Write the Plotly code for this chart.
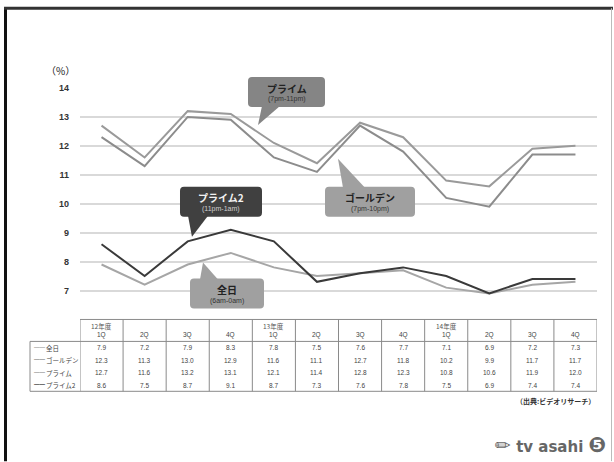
import plotly.graph_objects as go

W, H = 614, 462
L, R, T, B = 80, 17, 88, 156.5
FONT = "Liberation Sans, Noto Sans CJK JP, sans-serif"
JFONT = "Noto Sans CJK JP, Liberation Sans, sans-serif"


def px(x):
    # pixel -> paper x
    return (x - L) / (W - L - R)


def py(y):
    # pixel -> paper y
    return (H - B - y) / (H - T - B)


years = ["12年度", "", "", "", "13年度", "", "", "", "14年度", "", "", ""]
quarters = ["1Q", "2Q", "3Q", "4Q", "1Q", "2Q", "3Q", "4Q", "1Q", "2Q", "3Q", "4Q"]
x_idx = list(range(len(quarters)))

zennichi = [7.9, 7.2, 7.9, 8.3, 7.8, 7.5, 7.6, 7.7, 7.1, 6.9, 7.2, 7.3]
golden = [12.3, 11.3, 13.0, 12.9, 11.6, 11.1, 12.7, 11.8, 10.2, 9.9, 11.7, 11.7]
prime = [12.7, 11.6, 13.2, 13.1, 12.1, 11.4, 12.8, 12.3, 10.8, 10.6, 11.9, 12.0]
prime2 = [8.6, 7.5, 8.7, 9.1, 8.7, 7.3, 7.6, 7.8, 7.5, 6.9, 7.4, 7.4]

row_names = ["全日", "ゴールデン", "プライム", "プライム2"]
row_colors = ["#a6a6a6", "#8c8c8c", "#9a9a9a", "#3a3a3a"]
row_values = [zennichi, golden, prime, prime2]

fig = go.Figure()

# lines (light ones first, dark prime2 on top)
for order in [1, 2, 0, 3]:
    fig.add_trace(go.Scatter(x=x_idx, y=row_values[order], mode="lines",
                             line=dict(color=row_colors[order], width=2),
                             showlegend=False, hoverinfo="skip"))

shapes = []
annotations = []
tl = "#8a8a8a"


def hline(x0, x1, y, color=tl, w=1):
    shapes.append(dict(type="line", xref="paper", yref="paper", x0=px(x0), x1=px(x1),
                       y0=py(y), y1=py(y), line=dict(color=color, width=w), layer="above"))


def vline(x, y0, y1, color=tl, w=1):
    shapes.append(dict(type="line", xref="paper", yref="paper", x0=px(x), x1=px(x),
                       y0=py(y0), y1=py(y1), line=dict(color=color, width=w), layer="above"))


def note(x, y, text, size, color, family=FONT, xanchor="center", xref="paper"):
    annotations.append(dict(xref=xref, yref="paper", x=px(x) if xref == "paper" else x,
                            y=py(y), text=text, xanchor=xanchor, yanchor="middle",
                            showarrow=False, font=dict(family=family, size=size, color=color)))


# data table under the chart, columns on the chart's own x axis
TBL_L = 30
row_y = [348.5, 361, 373.5, 386]
for i in x_idx:
    if years[i]:
        note(i, 326.5, years[i], 6.5, "#555", JFONT, xref="x")
    note(i, 335.5, quarters[i], 6.5, "#444", FONT, xref="x")
    for r, vals in enumerate(row_values):
        note(i, row_y[r], "%.1f" % vals[i], 6.5, "#444", FONT, xref="x")
    shapes.append(dict(type="line", xref="x", yref="paper", x0=i - 0.5, x1=i - 0.5,
                       y0=py(320), y1=py(392), line=dict(color=tl, width=1), layer="above"))
shapes.append(dict(type="line", xref="x", yref="paper", x0=11.5, x1=11.5,
                   y0=py(320), y1=py(392), line=dict(color=tl, width=1), layer="above"))
for r, name in enumerate(row_names):
    note(TBL_L + 2, row_y[r], "━━", 5.5, row_colors[r], FONT, "left")
    note(TBL_L + 14, row_y[r], name, 6.5, "#444", JFONT, "left")

hline(80, 597, 320)
hline(TBL_L, 597, 342)
hline(TBL_L, 597, 392)
vline(TBL_L, 342, 392)

# outer frame
vline(5.5, 7, 462, "#111", 3)
hline(4, 613, 8, "#333", 3)
vline(611.5, 8, 462, "#bbb", 1)


def rounded(x0, y0, x1, y1, r=4):
    pts = [("M", x0 + r, y0), ("L", x1 - r, y0), ("Q", x1, y0, x1, y0 + r),
           ("L", x1, y1 - r), ("Q", x1, y1, x1 - r, y1), ("L", x0 + r, y1),
           ("Q", x0, y1, x0, y1 - r), ("L", x0, y0 + r), ("Q", x0, y0, x0 + r, y0)]
    out = []
    for p in pts:
        coords = p[1:]
        s = " ".join("%.5f,%.5f" % (px(coords[i]), py(coords[i + 1]))
                     for i in range(0, len(coords), 2))
        out.append(p[0] + " " + s)
    return " ".join(out) + " Z"


def tri(a, b, c):
    return "M %.5f,%.5f L %.5f,%.5f L %.5f,%.5f Z" % (
        px(a[0]), py(a[1]), px(b[0]), py(b[1]), px(c[0]), py(c[1]))


def callout(box, pointer, fill, title, sub, tcolor, scolor):
    x0, y0, x1, y1 = box
    shapes.append(dict(type="path", xref="paper", yref="paper", path=rounded(*box),
                       fillcolor=fill, line=dict(width=0), layer="above"))
    shapes.append(dict(type="path", xref="paper", yref="paper", path=tri(*pointer),
                       fillcolor=fill, line=dict(width=0), layer="above"))
    cx = (x0 + x1) / 2
    note(cx, y0 + 11, "<b>%s</b>" % title, 10, tcolor, JFONT)
    note(cx, y0 + 22.5, sub, 7, scolor)


callout((248, 77, 325, 107), ((262, 106), (280, 106), (258, 125)), "#858585",
        "プライム", "(7pm-11pm)", "#222", "#333")
callout((325, 187, 415, 217), ((343, 188), (365, 188), (338, 159)), "#a0a0a0",
        "ゴールデン", "(7pm-10pm)", "#222", "#333")
callout((180, 187, 262, 217), ((188, 216), (208, 216), (192, 237)), "#404040",
        "プライム2", "(11pm-1am)", "#f2f2f2", "#cfcfcf")
callout((190, 279, 264, 309), ((200, 280), (218, 280), (203, 263)), "#a0a0a0",
        "全日", "(6am-0am)", "#222", "#333")

note(60, 70, "（%）", 10, "#222", JFONT)
note(597, 402, "<b>（出典:ビデオリサーチ）</b>", 7, "#333", JFONT, "right")
note(608, 446, "<b><span style='font-size:19px'>✏</span> tv asahi "
     "<span style='font-size:21px'>❺</span></b>", 15, "#666",
     "DejaVu Sans, Liberation Sans", "right")

fig.update_layout(
    width=W, height=H, margin=dict(l=L, r=R, t=T, b=B),
    paper_bgcolor="white", plot_bgcolor="white",
    shapes=shapes, annotations=annotations, showlegend=False,
    xaxis=dict(range=[-0.5, 11.5], showticklabels=False,
               showgrid=False, zeroline=False, showline=False),
    yaxis=dict(range=[6.5, 14], tickvals=list(range(7, 15)),
               showgrid=True, gridcolor="#d9d9d9", gridwidth=1.5, zeroline=False,
               showline=False, ticks="", ticklabelstandoff=10,
               tickfont=dict(family=FONT, size=9, color="#333", weight="bold")),
)

fig.write_html("out.html", config={"displayModeBar": False},
               post_script="document.body.style.margin='0';")
